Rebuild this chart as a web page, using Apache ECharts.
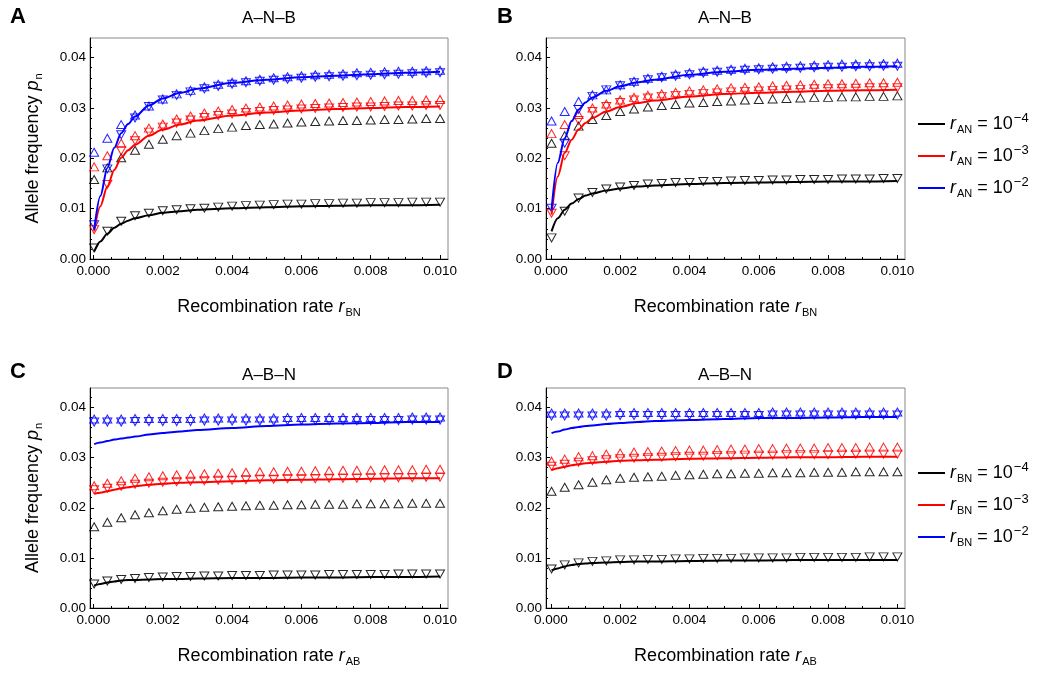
<!DOCTYPE html>
<html><head><meta charset="utf-8">
<script src="https://cdn.jsdelivr.net/npm/echarts@6/dist/echarts.min.js"></script>
<style>html,body{margin:0;padding:0;background:#fff}#c{width:1047px;height:680px}</style>
</head><body><div id="c"></div>
<script>
// ---------- tick labels ----------
const xTickValues = [0, 0.002, 0.004, 0.006, 0.008, 0.010];
const xMinorValues = [0.0005, 0.001, 0.0015, 0.0025, 0.003, 0.0035, 0.0045, 0.005, 0.0055, 0.0065, 0.007, 0.0075, 0.0085, 0.009, 0.0095];
const yTickValues = [0, 0.01, 0.02, 0.03, 0.04];

// ---------- x positions ----------
const xMarkers = [0.00002, 0.0004, 0.0008, 0.0012, 0.0016, 0.002, 0.0024, 0.0028, 0.0032, 0.0036, 0.004, 0.0044, 0.0048, 0.0052, 0.0056, 0.006, 0.0064, 0.0068, 0.0072, 0.0076, 0.008, 0.0084, 0.0088, 0.0092, 0.0096, 0.010];
const xLine = [0.00002, 0.0002, 0.0004, 0.0006, 0.0008, 0.001, 0.0012, 0.0016, 0.002, 0.0025, 0.003, 0.004, 0.005, 0.006, 0.007, 0.008, 0.009, 0.010];

// ---------- Panel A (A–N–B, x = r_BN) ----------
const aBlackLine = [0.0015, 0.0035, 0.0050, 0.0062, 0.0070, 0.0076, 0.0081, 0.0087, 0.0092, 0.0095, 0.0098, 0.0101, 0.0103, 0.0105, 0.0106, 0.0107, 0.0107, 0.0108];
const aRedLine   = [0.0055, 0.0105, 0.0144, 0.0177, 0.0201, 0.0216, 0.0227, 0.0245, 0.0257, 0.0267, 0.0275, 0.0285, 0.0291, 0.0295, 0.0298, 0.0300, 0.0302, 0.0303];
const aBlueLine  = [0.0058, 0.0125, 0.0181, 0.0221, 0.0250, 0.0268, 0.0283, 0.0305, 0.0319, 0.0330, 0.0338, 0.0350, 0.0356, 0.0361, 0.0364, 0.0367, 0.0370, 0.0372];
const aBlackUp   = [0.0158, 0.0181, 0.0201, 0.0216, 0.0228, 0.0238, 0.0245, 0.0250, 0.0255, 0.0259, 0.0262, 0.0265, 0.0267, 0.0268, 0.0270, 0.0272, 0.0273, 0.0274, 0.0275, 0.0275, 0.0276, 0.0277, 0.0277, 0.0278, 0.0279, 0.0279];
const aBlackDown = [0.0022, 0.0055, 0.0075, 0.0086, 0.0091, 0.0096, 0.0098, 0.0100, 0.0101, 0.0103, 0.0105, 0.0106, 0.0107, 0.0108, 0.0109, 0.0109, 0.0110, 0.0110, 0.0111, 0.0111, 0.0112, 0.0112, 0.0112, 0.0113, 0.0113, 0.0113];
const aRedUp     = [0.0183, 0.0205, 0.0230, 0.0245, 0.0260, 0.0268, 0.0278, 0.0284, 0.0290, 0.0294, 0.0297, 0.0300, 0.0302, 0.0304, 0.0306, 0.0308, 0.0309, 0.0310, 0.0311, 0.0312, 0.0313, 0.0314, 0.0315, 0.0315, 0.0316, 0.0317];
const aRedDown   = [0.0058, 0.0148, 0.0215, 0.0235, 0.0252, 0.0262, 0.0270, 0.0276, 0.0281, 0.0285, 0.0288, 0.0291, 0.0293, 0.0295, 0.0296, 0.0298, 0.0299, 0.0300, 0.0301, 0.0302, 0.0302, 0.0303, 0.0304, 0.0304, 0.0305, 0.0305];
const aBlueUp    = [0.0212, 0.0240, 0.0267, 0.0286, 0.0304, 0.0318, 0.0328, 0.0335, 0.0342, 0.0347, 0.0351, 0.0354, 0.0357, 0.0360, 0.0362, 0.0364, 0.0366, 0.0367, 0.0368, 0.0370, 0.0371, 0.0372, 0.0373, 0.0373, 0.0374, 0.0375];
const aBlueDown  = [0.0068, 0.0179, 0.0247, 0.0280, 0.0303, 0.0316, 0.0325, 0.0332, 0.0338, 0.0343, 0.0347, 0.0350, 0.0353, 0.0355, 0.0357, 0.0359, 0.0361, 0.0362, 0.0363, 0.0364, 0.0365, 0.0366, 0.0367, 0.0368, 0.0369, 0.0370];

// ---------- Panel B (A–N–B, x = r_BN) ----------
const bBlackLine = [0.0055, 0.0081, 0.0098, 0.0110, 0.0119, 0.0126, 0.0130, 0.0136, 0.0140, 0.0144, 0.0146, 0.0149, 0.0151, 0.0152, 0.0153, 0.0154, 0.0154, 0.0155];
const bRedLine   = [0.0088, 0.0164, 0.0211, 0.0237, 0.0257, 0.0270, 0.0280, 0.0293, 0.0302, 0.0310, 0.0315, 0.0323, 0.0328, 0.0330, 0.0332, 0.0334, 0.0335, 0.0336];
const bBlueLine  = [0.0098, 0.0191, 0.0240, 0.0274, 0.0297, 0.0311, 0.0321, 0.0334, 0.0343, 0.0351, 0.0356, 0.0366, 0.0372, 0.0376, 0.0378, 0.0380, 0.0382, 0.0383];
const bBlackUp   = [0.0230, 0.0245, 0.0264, 0.0277, 0.0285, 0.0293, 0.0298, 0.0302, 0.0305, 0.0307, 0.0310, 0.0311, 0.0313, 0.0314, 0.0316, 0.0317, 0.0318, 0.0319, 0.0320, 0.0321, 0.0321, 0.0322, 0.0322, 0.0323, 0.0323, 0.0324];
const bBlackDown = [0.0042, 0.0095, 0.0121, 0.0132, 0.0139, 0.0143, 0.0146, 0.0149, 0.0150, 0.0152, 0.0152, 0.0154, 0.0154, 0.0155, 0.0156, 0.0156, 0.0157, 0.0157, 0.0158, 0.0158, 0.0158, 0.0159, 0.0159, 0.0159, 0.0160, 0.0160];
const bRedUp     = [0.0249, 0.0267, 0.0287, 0.0300, 0.0308, 0.0316, 0.0321, 0.0325, 0.0328, 0.0331, 0.0334, 0.0336, 0.0338, 0.0340, 0.0341, 0.0342, 0.0344, 0.0345, 0.0346, 0.0347, 0.0348, 0.0348, 0.0349, 0.0350, 0.0350, 0.0351];
const bRedDown   = [0.0091, 0.0205, 0.0275, 0.0293, 0.0303, 0.0311, 0.0316, 0.0320, 0.0323, 0.0325, 0.0327, 0.0329, 0.0330, 0.0332, 0.0333, 0.0334, 0.0335, 0.0336, 0.0337, 0.0338, 0.0338, 0.0339, 0.0339, 0.0340, 0.0340, 0.0340];
const bBlueUp    = [0.0274, 0.0293, 0.0313, 0.0326, 0.0336, 0.0346, 0.0353, 0.0359, 0.0363, 0.0367, 0.0370, 0.0373, 0.0375, 0.0377, 0.0379, 0.0380, 0.0382, 0.0383, 0.0384, 0.0385, 0.0386, 0.0387, 0.0387, 0.0388, 0.0388, 0.0389];
const bBlueDown  = [0.0101, 0.0230, 0.0297, 0.0323, 0.0336, 0.0344, 0.0350, 0.0356, 0.0360, 0.0363, 0.0366, 0.0369, 0.0371, 0.0373, 0.0375, 0.0376, 0.0377, 0.0378, 0.0379, 0.0380, 0.0381, 0.0381, 0.0382, 0.0382, 0.0383, 0.0383];

// ---------- Panel C (A–B–N, x = r_AB) ----------
const cBlackLine = [0.0045, 0.0048, 0.0051, 0.0053, 0.0055, 0.0056, 0.0056, 0.0057, 0.0058, 0.0058, 0.0059, 0.0060, 0.0060, 0.0061, 0.0061, 0.0062, 0.0062, 0.0063];
const cRedLine   = [0.0228, 0.0230, 0.0233, 0.0236, 0.0239, 0.0241, 0.0243, 0.0246, 0.0248, 0.0250, 0.0251, 0.0253, 0.0255, 0.0256, 0.0257, 0.0258, 0.0259, 0.0259];
const cBlueLine  = [0.0327, 0.0330, 0.0333, 0.0336, 0.0338, 0.0340, 0.0342, 0.0346, 0.0349, 0.0352, 0.0355, 0.0359, 0.0363, 0.0366, 0.0368, 0.0369, 0.0371, 0.0371];
const cBlackUp   = [0.0162, 0.0171, 0.0180, 0.0186, 0.0190, 0.0194, 0.0197, 0.0199, 0.0201, 0.0202, 0.0203, 0.0204, 0.0205, 0.0205, 0.0206, 0.0206, 0.0207, 0.0207, 0.0207, 0.0208, 0.0208, 0.0208, 0.0208, 0.0209, 0.0209, 0.0209];
const cBlackDown = [0.0048, 0.0054, 0.0057, 0.0059, 0.0061, 0.0062, 0.0063, 0.0063, 0.0064, 0.0064, 0.0065, 0.0065, 0.0065, 0.0066, 0.0066, 0.0066, 0.0066, 0.0067, 0.0067, 0.0067, 0.0067, 0.0067, 0.0068, 0.0068, 0.0068, 0.0068];
const cRedUp     = [0.0244, 0.0249, 0.0254, 0.0259, 0.0262, 0.0264, 0.0266, 0.0267, 0.0268, 0.0269, 0.0270, 0.0271, 0.0272, 0.0272, 0.0273, 0.0273, 0.0274, 0.0274, 0.0275, 0.0275, 0.0275, 0.0276, 0.0276, 0.0276, 0.0277, 0.0277];
const cRedDown   = [0.0236, 0.0239, 0.0243, 0.0247, 0.0249, 0.0251, 0.0252, 0.0253, 0.0254, 0.0255, 0.0255, 0.0256, 0.0257, 0.0257, 0.0258, 0.0258, 0.0258, 0.0259, 0.0259, 0.0259, 0.0260, 0.0260, 0.0260, 0.0260, 0.0261, 0.0261];
const cBlueUp    = [0.0377, 0.0377, 0.0377, 0.0378, 0.0378, 0.0378, 0.0378, 0.0378, 0.0379, 0.0379, 0.0379, 0.0379, 0.0379, 0.0379, 0.0380, 0.0380, 0.0380, 0.0380, 0.0380, 0.0380, 0.0380, 0.0380, 0.0380, 0.0381, 0.0381, 0.0381];
const cBlueDown  = [0.0371, 0.0371, 0.0371, 0.0372, 0.0372, 0.0372, 0.0372, 0.0372, 0.0373, 0.0373, 0.0373, 0.0373, 0.0373, 0.0373, 0.0374, 0.0374, 0.0374, 0.0374, 0.0374, 0.0374, 0.0374, 0.0374, 0.0374, 0.0375, 0.0375, 0.0375];

// ---------- Panel D (A–B–N, x = r_AB) ----------
const dBlackLine = [0.0075, 0.0079, 0.0083, 0.0086, 0.0088, 0.0089, 0.0090, 0.0091, 0.0092, 0.0093, 0.0093, 0.0094, 0.0095, 0.0095, 0.0096, 0.0096, 0.0096, 0.0096];
const dRedLine   = [0.0275, 0.0279, 0.0282, 0.0285, 0.0287, 0.0289, 0.0290, 0.0292, 0.0294, 0.0295, 0.0296, 0.0298, 0.0299, 0.0300, 0.0301, 0.0301, 0.0302, 0.0302];
const dBlueLine  = [0.0349, 0.0352, 0.0356, 0.0359, 0.0361, 0.0363, 0.0364, 0.0367, 0.0369, 0.0371, 0.0373, 0.0375, 0.0377, 0.0379, 0.0379, 0.0380, 0.0381, 0.0381];
const dBlackUp   = [0.0233, 0.0241, 0.0246, 0.0251, 0.0256, 0.0259, 0.0261, 0.0262, 0.0263, 0.0265, 0.0266, 0.0267, 0.0268, 0.0268, 0.0269, 0.0269, 0.0270, 0.0270, 0.0270, 0.0271, 0.0271, 0.0271, 0.0272, 0.0272, 0.0272, 0.0272];
const dBlackDown = [0.0078, 0.0086, 0.0090, 0.0093, 0.0094, 0.0096, 0.0096, 0.0097, 0.0097, 0.0098, 0.0098, 0.0099, 0.0099, 0.0099, 0.0100, 0.0100, 0.0100, 0.0100, 0.0101, 0.0101, 0.0101, 0.0101, 0.0101, 0.0102, 0.0102, 0.0102];
const dRedUp     = [0.0293, 0.0297, 0.0302, 0.0304, 0.0307, 0.0309, 0.0311, 0.0312, 0.0313, 0.0314, 0.0315, 0.0315, 0.0316, 0.0317, 0.0317, 0.0318, 0.0318, 0.0319, 0.0319, 0.0319, 0.0320, 0.0320, 0.0320, 0.0321, 0.0321, 0.0321];
const dRedDown   = [0.0283, 0.0287, 0.0291, 0.0294, 0.0296, 0.0298, 0.0299, 0.0300, 0.0301, 0.0302, 0.0303, 0.0303, 0.0304, 0.0304, 0.0305, 0.0305, 0.0305, 0.0306, 0.0306, 0.0306, 0.0306, 0.0307, 0.0307, 0.0307, 0.0307, 0.0307];
const dBlueUp    = [0.0389, 0.0389, 0.0389, 0.0389, 0.0389, 0.0390, 0.0390, 0.0390, 0.0390, 0.0390, 0.0390, 0.0390, 0.0390, 0.0390, 0.0390, 0.0390, 0.0391, 0.0391, 0.0391, 0.0391, 0.0391, 0.0391, 0.0391, 0.0391, 0.0391, 0.0391];
const dBlueDown  = [0.0383, 0.0383, 0.0383, 0.0383, 0.0383, 0.0384, 0.0384, 0.0384, 0.0384, 0.0384, 0.0384, 0.0384, 0.0384, 0.0384, 0.0384, 0.0384, 0.0385, 0.0385, 0.0385, 0.0385, 0.0385, 0.0385, 0.0385, 0.0385, 0.0385, 0.0385];

// ---------- text ----------
const panelTitles = ['A–N–B', 'A–N–B', 'A–B–N', 'A–B–N'];
const panelLetters = ['A', 'B', 'C', 'D'];
const xSubs = ['BN', 'BN', 'AB', 'AB'];

const BLACK = '#000000', RED = '#ff0000', BLUE = '#0000ff';
const FONT = '"Liberation Sans", Arial, Helvetica, sans-serif';

const grids = [
  { left: 90,  top: 38,  width: 358, height: 221 },
  { left: 546, top: 38,  width: 359, height: 221 },
  { left: 90,  top: 388, width: 358, height: 220 },
  { left: 546, top: 388, width: 359, height: 220 }
];
const xRanges = [[-0.0001, 0.01023], [-0.00014, 0.01022], [-0.0001, 0.01023], [-0.00014, 0.01022]];

const panels = [
  { lines: [aBlackLine, aRedLine, aBlueLine], up: [aBlackUp, aRedUp, aBlueUp], down: [aBlackDown, aRedDown, aBlueDown] },
  { lines: [bBlackLine, bRedLine, bBlueLine], up: [bBlackUp, bRedUp, bBlueUp], down: [bBlackDown, bRedDown, bBlueDown] },
  { lines: [cBlackLine, cRedLine, cBlueLine], up: [cBlackUp, cRedUp, cBlueUp], down: [cBlackDown, cRedDown, cBlueDown] },
  { lines: [dBlackLine, dRedLine, dBlueLine], up: [dBlackUp, dRedUp, dBlueUp], down: [dBlackDown, dRedDown, dBlueDown] }
];
const colors = [BLACK, RED, BLUE];

const richBase = {
  t: { fontSize: 18, fontFamily: FONT, color: '#000', lineHeight: 26 },
  i: { fontSize: 18, fontFamily: FONT, fontStyle: 'italic', color: '#000', lineHeight: 26 },
  s: { fontSize: 11, fontFamily: FONT, color: '#000', lineHeight: 11, verticalAlign: 'bottom', padding: [0, 0, 2, 1] },
  p: { fontSize: 13, fontFamily: FONT, color: '#000', lineHeight: 13, verticalAlign: 'top', padding: [1, 0, 0, 1] }
};

const xAxes = [], yAxes = [], series = [];
grids.forEach((g, k) => {
  xAxes.push({
    type: 'value', gridIndex: k, min: xRanges[k][0], max: xRanges[k][1], position: 'bottom',
    axisLine: { show: true, onZero: false, lineStyle: { color: '#000', width: 1 } },
    axisTick: { show: true, inside: true, length: 4, customValues: xTickValues, lineStyle: { color: '#000' } },
    axisLabel: { show: true, customValues: xTickValues, margin: 5, color: '#000', fontSize: 13.5, fontFamily: FONT,
                 formatter: v => v.toFixed(3) },
    splitLine: { show: false },
    name: '{t|Recombination rate }{i|r}{s|' + xSubs[k] + '}',
    nameLocation: 'middle', nameGap: 35,
    nameTextStyle: { rich: richBase }
  });
  xAxes.push({
    type: 'value', gridIndex: k, min: xRanges[k][0], max: xRanges[k][1], position: 'bottom',
    axisLine: { show: false },
    axisTick: { show: true, inside: true, length: 2, customValues: xMinorValues, lineStyle: { color: '#000' } },
    axisLabel: { show: false },
    splitLine: { show: false }
  });
  const yAx = {
    type: 'value', gridIndex: k, min: 0, max: 0.0439, interval: 0.01,
    axisLine: { show: true, onZero: false, lineStyle: { color: '#000', width: 1 } },
    axisTick: { show: true, inside: true, length: 4, customValues: yTickValues, lineStyle: { color: '#000' } },
    minorTick: { show: true, splitNumber: 5, length: 2, lineStyle: { color: '#000' } },
    axisLabel: { show: true, customValues: yTickValues, margin: 4, color: '#000', fontSize: 13.5, fontFamily: FONT,
                 formatter: v => v.toFixed(2) },
    splitLine: { show: false }
  };
  if (k === 0 || k === 2) {
    yAx.name = '{t|Allele frequency }{i|p}{s|n}';
    yAx.nameLocation = 'middle';
    yAx.nameGap = 44;
    yAx.nameTextStyle = { rich: richBase };
  }
  yAxes.push(yAx);

  const p = panels[k];
  const lineNames = (k < 2 ? ['AN4', 'AN3', 'AN2'] : ['BN4', 'BN3', 'BN2']);
  for (let c = 0; c < 3; c++) {
    series.push({
      type: 'scatter', name: 'up' + k + c, xAxisIndex: 2 * k, yAxisIndex: k,
      data: xMarkers.map((x, i) => [x, p.up[c][i]]),
      symbol: 'triangle', symbolSize: [9, 8], silent: true,
      itemStyle: { color: 'rgba(255,255,255,0)', borderColor: colors[c], borderWidth: 1, opacity: 0.85 },
      z: 2
    });
    series.push({
      type: 'scatter', name: 'down' + k + c, xAxisIndex: 2 * k, yAxisIndex: k,
      data: xMarkers.map((x, i) => [x, p.down[c][i]]),
      symbol: 'triangle', symbolRotate: 180, symbolSize: [9, 8], silent: true,
      itemStyle: { color: 'rgba(255,255,255,0)', borderColor: colors[c], borderWidth: 1, opacity: 0.85 },
      z: 2
    });
  }
  for (let c = 0; c < 3; c++) {
    series.push({
      type: 'line', name: lineNames[c], xAxisIndex: 2 * k, yAxisIndex: k,
      data: xLine.map((x, i) => [x, p.lines[c][i]]),
      smooth: 0.3, smoothMonotone: 'x', symbol: 'none', silent: true,
      lineStyle: { color: colors[c], width: 2 }, itemStyle: { color: colors[c] },
      z: 3
    });
  }
});

const legendFmt = name => '{i|r}{s|' + name.slice(0, 2) + '}{t| = 10}{p|−' + name.slice(2) + '}';
const legends = [
  { data: ['AN4', 'AN3', 'AN2'], top: 106 },
  { data: ['BN4', 'BN3', 'BN2'], top: 455 }
].map(l => ({
  data: l.data, orient: 'vertical', left: 913, top: l.top, itemWidth: 27, itemHeight: 2, itemGap: 6,
  selectedMode: false, icon: 'rect',
  formatter: legendFmt,
  textStyle: { rich: richBase }
}));

const graphics = [];
const titlePos = [[269, 18], [725, 18], [269, 375], [725, 375]];
const letterPos = [[18, 17], [505, 17], [18, 372], [505, 372]];
for (let k = 0; k < 4; k++) {
  graphics.push({ type: 'text', x: titlePos[k][0], y: titlePos[k][1],
    style: { text: panelTitles[k], align: 'center', verticalAlign: 'middle', font: '17px ' + FONT, fill: '#000' } });
  graphics.push({ type: 'text', x: letterPos[k][0], y: letterPos[k][1],
    style: { text: panelLetters[k], align: 'center', verticalAlign: 'middle', font: 'bold 22px ' + FONT, fill: '#000' } });
}

const chart = echarts.init(document.getElementById('c'), null, { renderer: 'canvas' });
chart.setOption({
  animation: false,
  backgroundColor: '#ffffff',
  grid: grids.map(g => Object.assign({ show: true, borderColor: '#888', borderWidth: 1, backgroundColor: 'transparent' }, g)),
  xAxis: xAxes,
  yAxis: yAxes,
  legend: legends,
  graphic: graphics,
  series: series
});
</script>
</body></html>
